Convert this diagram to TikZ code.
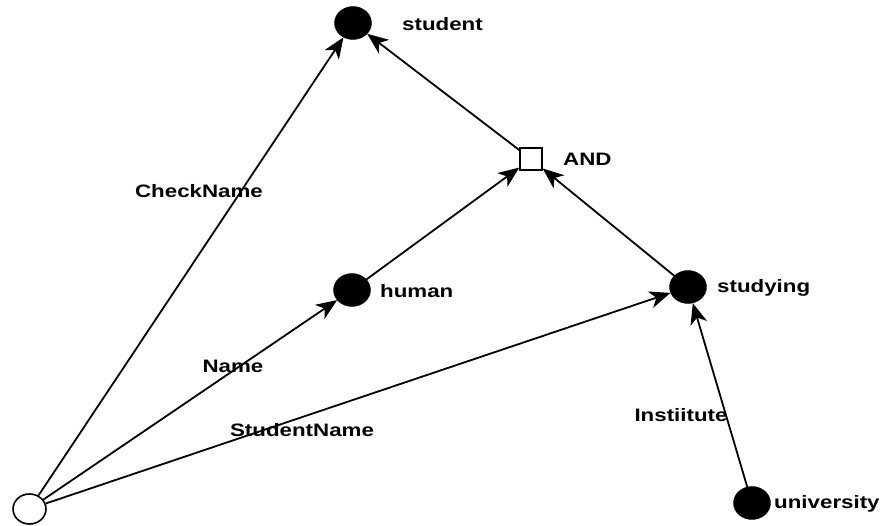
\documentclass[tikz,border=0pt]{standalone}
\usepackage{fontspec}
\setmainfont{Liberation Sans}[FakeStretch=1.24]
\usetikzlibrary{arrows.meta,shapes.geometric}
\begin{document}
\begin{tikzpicture}[x=1pt,y=-1pt,
  blk/.style={ellipse, fill=black, draw=black, minimum width=37pt, minimum height=33pt, inner sep=0pt},
  wht/.style={ellipse, fill=white, draw=black, line width=1.6pt, minimum width=33pt, minimum height=30pt, inner sep=0pt},
  andbox/.style={rectangle, draw=black, fill=white, line width=1.4pt, minimum size=22pt, inner sep=0pt},
  lbl/.style={font=\fontsize{18}{20}\selectfont\bfseries, inner sep=0pt},
  conn/.style={line width=1.8pt, -{Stealth[length=21pt,width=17pt,inset=6pt]}}]
\useasboundingbox (0,0) rectangle (882,526);
% nodes
\node[blk] (student) at (353,23) {};
\node[andbox] (and) at (531,159) {};
\node[blk] (human) at (352,290) {};
\node[blk] (studying) at (688,287) {};
\node[blk] (univ) at (752,503) {};
\node[wht] (src) at (29.5,509) {};
% node labels
\node[lbl, anchor=west] (tstudent) at (402,24) {student};
\node[lbl, anchor=west] (tand) at (563,159) {AND};
\node[lbl, anchor=west] (thuman) at (380,291) {human};
\node[lbl, anchor=west] (tstudying) at (717,288) {studying};
\node[lbl, anchor=west] (tuniv) at (774,504) {university};
% edge labels
\node[lbl] (lcheck) at (199,191) {CheckName};
\node[lbl] (lname) at (233,366) {Name};
\node[lbl] (lsname) at (302,430) {StudentName};
\node[lbl] (linst) at (681,415) {Instiitute};
% connectors
\draw[conn] (src) -- (student);
\draw[conn] (src) -- (human);
\draw[conn] (src) -- (studying);
\draw[conn] (univ) -- (studying);
\draw[conn] (human) -- (and);
\draw[conn] (studying) -- (and);
\draw[conn] (and) -- (student);
\end{tikzpicture}
\end{document}
